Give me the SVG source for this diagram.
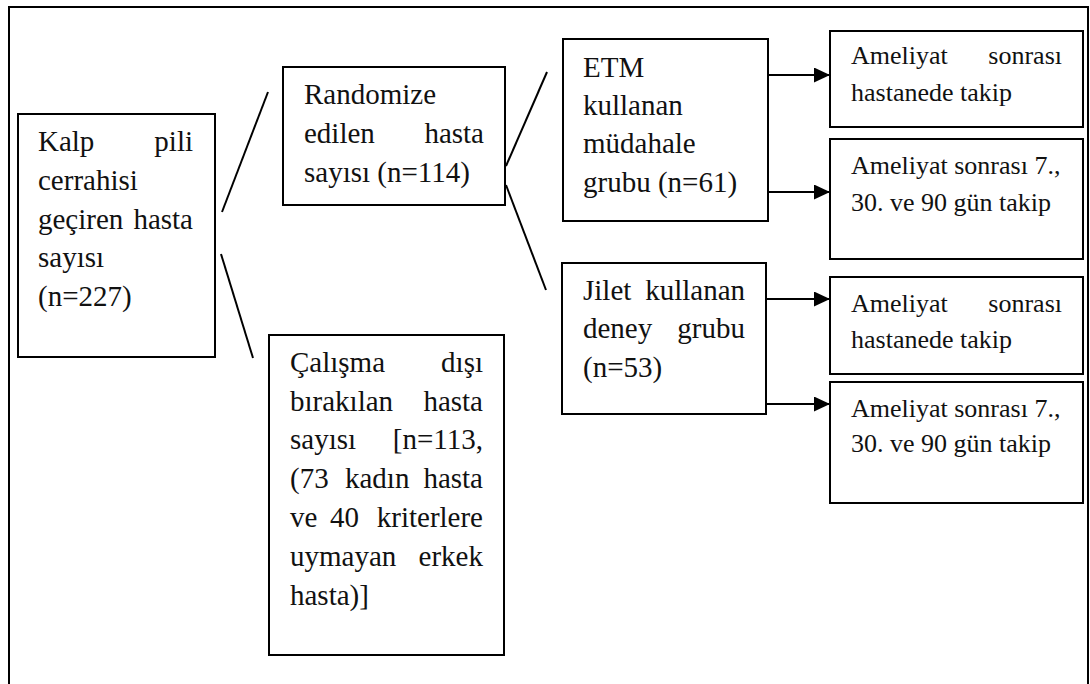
<svg xmlns="http://www.w3.org/2000/svg" width="1090" height="684" viewBox="0 0 1090 684">
<style>
.box{fill:#fff;stroke:#000;stroke-width:2}
text{font-family:"Times New Roman",Times,"Liberation Serif",Tinos,"Noto Serif","DejaVu Serif",FreeSerif,serif;fill:#111}
.t{font-size:29px}
.s{font-size:26px}
.e{text-anchor:end}
.ln{stroke:#000;stroke-width:2;fill:none}
</style>
<defs>
<marker id="ah" markerWidth="16" markerHeight="15" refX="16" refY="7.5" orient="auto" markerUnits="userSpaceOnUse">
<path d="M0,0 L16,7.5 L0,15 Z" fill="#000"/>
</marker>
</defs>
<rect width="1090" height="684" fill="#fff"/>
<path d="M9,684 V7 H1088 V684" fill="none" stroke="#000" stroke-width="2"/>

<g id="connectors">
<line class="ln" x1="222" y1="212" x2="268" y2="92"/>
<line class="ln" x1="221" y1="254" x2="253" y2="358"/>
<line class="ln" x1="506" y1="166" x2="547" y2="72"/>
<line class="ln" x1="506" y1="185" x2="546" y2="290"/>
<line class="ln" x1="768" y1="75" x2="830" y2="75" marker-end="url(#ah)"/>
<line class="ln" x1="768" y1="192" x2="830" y2="192" marker-end="url(#ah)"/>
<line class="ln" x1="766" y1="299" x2="830" y2="299" marker-end="url(#ah)"/>
<line class="ln" x1="766" y1="404" x2="830" y2="404" marker-end="url(#ah)"/>
</g>

<g id="n1">
<rect class="box" x="18" y="114" width="197" height="243"/>
<text class="t" x="38" y="151">Kalp</text>
<text class="t e" x="193" y="151">pili</text>
<text class="t" x="38" y="190">cerrahisi</text>
<text class="t" x="38" y="229">geçiren</text>
<text class="t e" x="193" y="229">hasta</text>
<text class="t" x="38" y="267">sayısı</text>
<text class="t" x="38" y="306">(n=227)</text>
</g>

<g id="n2">
<rect class="box" x="283" y="67" width="222" height="138"/>
<text class="t" x="304" y="104">Randomize</text>
<text class="t" x="304" y="143">edilen</text>
<text class="t e" x="484" y="143">hasta</text>
<text class="t" x="304" y="182">sayısı (n=114)</text>
</g>

<g id="n3">
<rect class="box" x="269" y="335" width="235" height="320"/>
<text class="t" x="290" y="372">Çalışma</text>
<text class="t e" x="483" y="372">dışı</text>
<text class="t" x="290" y="411">bırakılan</text>
<text class="t e" x="483" y="411">hasta</text>
<text class="t" x="290" y="449">sayısı</text>
<text class="t e" x="483" y="449">[n=113,</text>
<text class="t" x="290" y="488">(73</text>
<text class="t" x="345" y="488">kadın</text>
<text class="t e" x="483" y="488">hasta</text>
<text class="t" x="290" y="527">ve</text>
<text class="t" x="330" y="527">40</text>
<text class="t e" x="483" y="527">kriterlere</text>
<text class="t" x="290" y="566">uymayan</text>
<text class="t e" x="483" y="566">erkek</text>
<text class="t" x="290" y="605">hasta)]</text>
</g>

<g id="n4">
<rect class="box" x="563" y="39" width="205" height="182"/>
<text class="t" x="583" y="77">ETM</text>
<text class="t" x="583" y="115">kullanan</text>
<text class="t" x="583" y="153">müdahale</text>
<text class="t" x="583" y="192">grubu (n=61)</text>
</g>

<g id="n5">
<rect class="box" x="562" y="263" width="204" height="151"/>
<text class="t" x="583" y="300">Jilet</text>
<text class="t e" x="745" y="300">kullanan</text>
<text class="t" x="583" y="338">deney</text>
<text class="t e" x="745" y="338">grubu</text>
<text class="t" x="583" y="377">(n=53)</text>
</g>

<g id="n6">
<rect class="box" x="830" y="31" width="253" height="96"/>
<text class="s" x="851" y="64">Ameliyat</text>
<text class="s e" x="1062" y="64">sonrası</text>
<text class="s" x="851" y="101">hastanede takip</text>
</g>

<g id="n7">
<rect class="box" x="830" y="139" width="253" height="120"/>
<text class="s" x="851" y="174">Ameliyat sonrası 7.,</text>
<text class="s" x="851" y="211">30. ve 90 gün takip</text>
</g>

<g id="n8">
<rect class="box" x="830" y="277" width="253" height="97"/>
<text class="s" x="851" y="312">Ameliyat</text>
<text class="s e" x="1062" y="312">sonrası</text>
<text class="s" x="851" y="348">hastanede takip</text>
</g>

<g id="n9">
<rect class="box" x="830" y="382" width="253" height="121"/>
<text class="s" x="851" y="417">Ameliyat sonrası 7.,</text>
<text class="s" x="851" y="452">30. ve 90 gün takip</text>
</g>
</svg>
